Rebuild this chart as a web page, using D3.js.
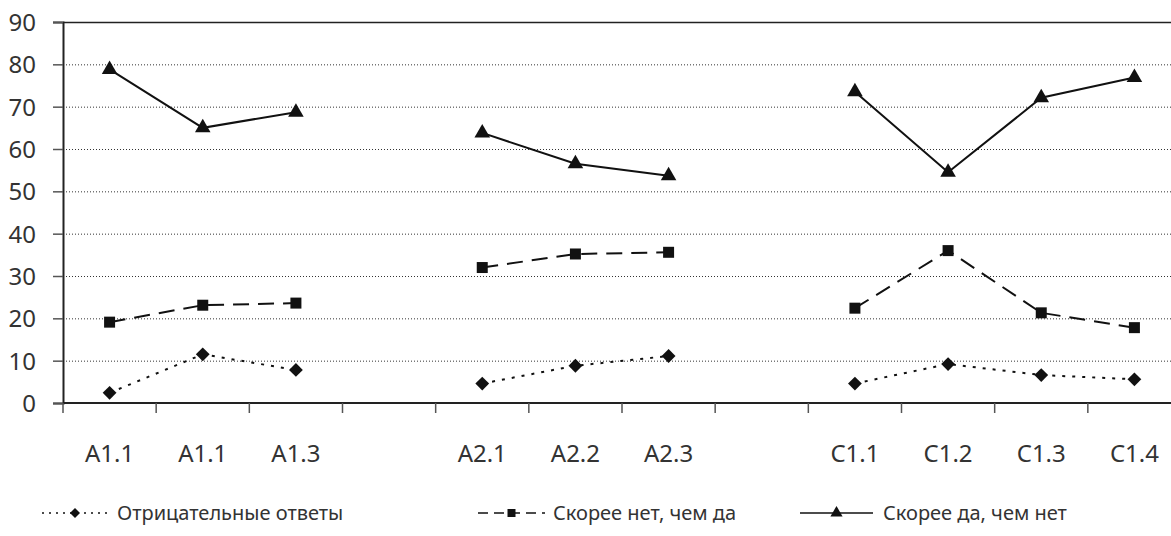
<!DOCTYPE html>
<html><head><meta charset="utf-8">
<script src="https://cdn.jsdelivr.net/npm/d3@7"></script>
<style>
html,body{margin:0;padding:0;background:#fff;}
svg{display:block;}
text{font-family:"Noto Sans","DejaVu Sans",sans-serif;fill:#333;}
</style></head>
<body>
<svg id="chart" width="1171" height="536"></svg>
<script>
const categories = ["A1.1","A1.1","A1.3","","A2.1","A2.2","A2.3","","C1.1","C1.2","C1.3","C1.4"];
const negative   = [2.4, 11.5, 7.8, null, 4.6, 8.8, 11.1, null, 4.6, 9.2, 6.6, 5.6];
const ratherNo   = [19.1, 23.1, 23.6, null, 32.0, 35.2, 35.6, null, 22.4, 36.0, 21.3, 17.8];
const ratherYes  = [78.8, 65.0, 68.7, null, 63.8, 56.5, 53.7, null, 73.5, 54.5, 72.1, 76.9];
const yTicks = [0,10,20,30,40,50,60,70,80,90];
const seriesNames = ["Отрицательные ответы","Скорее нет, чем да","Скорее да, чем нет"];

(function(){
const svg = d3.select("#chart");
const mLeft = 63, mRight = 1181, mTop = 22, mBottom = 403;

const x = d3.scaleBand().domain(d3.range(categories.length)).range([mLeft, mRight]).padding(0);
const y = d3.scaleLinear().domain([0, 90]).range([mBottom, mTop]);

// gridlines
svg.append("g").selectAll("line").data(yTicks.filter(t => t > 0 && t < 90)).join("line")
  .attr("x1", mLeft).attr("x2", 1171)
  .attr("y1", d => y(d) + 0.5).attr("y2", d => y(d) + 0.5)
  .attr("stroke", "#333").attr("stroke-width", 1).attr("stroke-dasharray", "1,2");
// top border
svg.append("line").attr("x1", mLeft).attr("x2", 1171).attr("y1", y(90)+0.5).attr("y2", y(90)+0.5)
  .attr("stroke", "#222").attr("stroke-width", 1.5);

// y axis
const yAxis = d3.axisLeft(y).tickValues(yTicks).tickSize(10).tickPadding(17);
const gy = svg.append("g").attr("transform", `translate(${mLeft},0)`).call(yAxis);
gy.select(".domain").attr("stroke", "#222").attr("stroke-width", 2);
gy.selectAll(".tick line").attr("stroke", "#555").attr("stroke-width", 1.5);
gy.selectAll(".tick text").attr("font-size", 24).attr("fill", "#333")
  .style("font-family", '"Noto Sans","DejaVu Sans",sans-serif').attr("dy", "0.36em");

// x axis: ticks at category boundaries
const boundaries = d3.range(categories.length + 1).map(i => mLeft + i * x.bandwidth());
svg.append("line").attr("x1", mLeft).attr("x2", 1171).attr("y1", mBottom).attr("y2", mBottom)
  .attr("stroke", "#222").attr("stroke-width", 2);
svg.append("g").selectAll("line").data(boundaries).join("line")
  .attr("x1", d => d).attr("x2", d => d).attr("y1", mBottom).attr("y2", mBottom + 10)
  .attr("stroke", "#555").attr("stroke-width", 1.5);
svg.append("g").selectAll("text").data(categories).join("text")
  .attr("x", (d, i) => x(i) + x.bandwidth() / 2).attr("y", 462)
  .attr("text-anchor", "middle").attr("font-size", 24).text(d => d);

const cx = i => x(i) + x.bandwidth() / 2;
const line = d3.line().defined(d => d !== null).x((d, i) => cx(i)).y(d => y(d));

const series = [
  {vals: negative, dash: "3,7", sym: d3.symbolSquare, size: 95, rot: 45},
  {vals: ratherNo, dash: "16,9", sym: d3.symbolSquare, size: 121, rot: 0},
  {vals: ratherYes, dash: null, sym: d3.symbolTriangle, size: 105, rot: 0}
];

series.forEach(s => {
  const p = svg.append("path").datum(s.vals).attr("d", line)
    .attr("fill", "none").attr("stroke", "#111").attr("stroke-width", 2);
  if (s.dash) p.attr("stroke-dasharray", s.dash);
  svg.append("g").selectAll("path")
    .data(s.vals.map((v, i) => ({v, i})).filter(d => d.v !== null)).join("path")
    .attr("d", d3.symbol().type(s.sym).size(s.size))
    .attr("transform", d => `translate(${cx(d.i)},${y(d.v)}) rotate(${s.rot})`)
    .attr("fill", "#111");
});

// legend
const legendY = 513;
const legendItems = [
  {x0: 42, x1: 108, tx: 117, s: series[0], lsize: 50},
  {x0: 478, x1: 545, tx: 553, s: series[1], lsize: 64},
  {x0: 800, x1: 873, tx: 883, s: series[2], lsize: 64}
];
legendItems.forEach((it, k) => {
  const l = svg.append("line").attr("x1", it.x0).attr("x2", it.x1)
    .attr("y1", legendY).attr("y2", legendY).attr("stroke", "#111").attr("stroke-width", 1.5);
  if (it.s.dash) l.attr("stroke-dasharray", k === 0 ? "2,5" : "10,6");
  svg.append("path").attr("d", d3.symbol().type(it.s.sym).size(it.lsize)())
    .attr("transform", `translate(${(it.x0 + it.x1) / 2},${legendY}) rotate(${it.s.rot})`).attr("fill", "#111");
  svg.append("text").attr("x", it.tx).attr("y", legendY).attr("dy", "0.35em")
    .attr("font-size", 20).text(seriesNames[k]);
});
})();
</script>
</body></html>
